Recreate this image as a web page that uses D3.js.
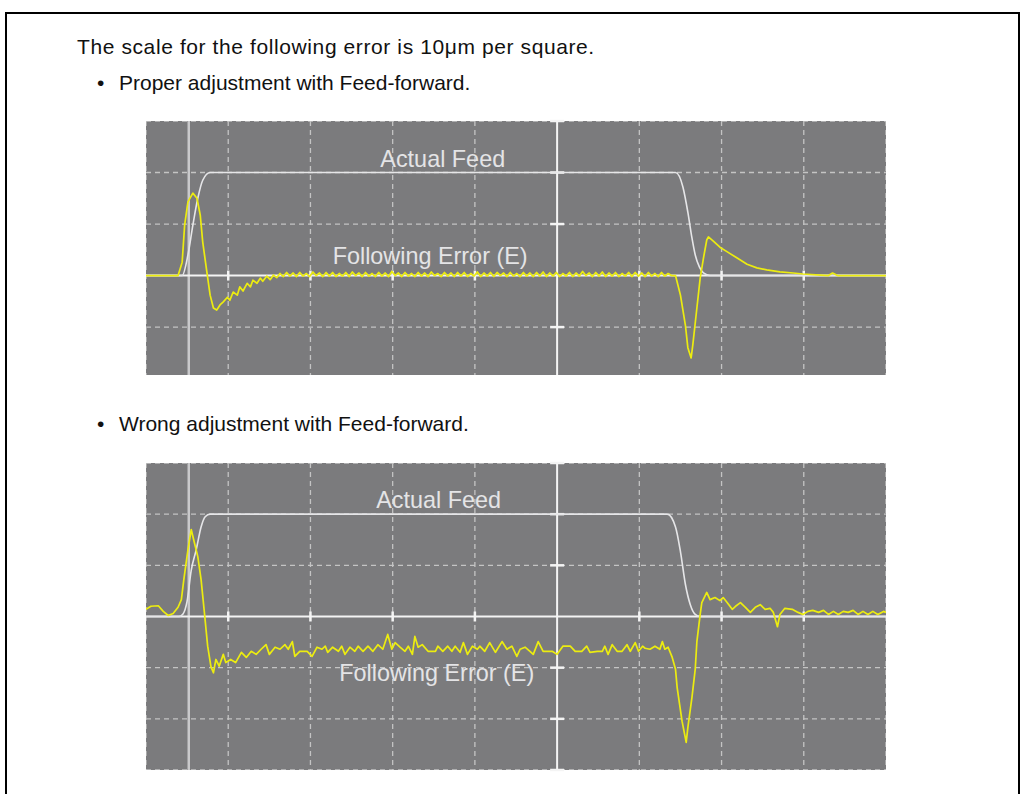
<!DOCTYPE html>
<html>
<head>
<meta charset="utf-8">
<script src="https://cdn.jsdelivr.net/npm/d3@7"></script>
<style>
body{margin:0;background:#fff;}
text{font-family:"Liberation Sans",Arial,Helvetica,sans-serif;}
</style>
</head>
<body>
<script>
var width=1025,height=794;

// time in scope divisions, following error in µm (10 µm per square)
var timeDivs = [0,1,2,3,4,5,6,7,8,9];
var errTicksProper = [-10,0,10,20,30];
var errTicksWrong = [-30,-20,-10,0,10,20,30];
var triggerT = 0.52;

var feedProper = [[0,0],[0.44,0],[0.51,4],[0.57,9.8],[0.63,15],[0.69,18.5],[0.78,20],
	[6.44,20],[6.53,17.2],[6.59,12.3],[6.64,7.3],[6.68,4],[6.73,1.7],[6.78,0.5],[6.86,0],[9,0]];

var errProper = [[0,0],[0.39,0],[0.44,2.6],[0.47,9.8],[0.51,14.3],[0.57,16],[0.62,15],[0.66,11.7],
	[0.69,6.5],[0.74,0.7],[0.78,-3.8],[0.82,-6.3],[0.86,-6.7],[0.9,-5.7],[0.94,-5.1],[0.99,-4.2],
	[1.02,-4.8],[1.06,-3.2],[1.11,-3.8],[1.14,-2.2],[1.18,-3],[1.23,-1.5],[1.27,-2.2],[1.3,-0.9],
	[1.35,-1.5],[1.39,-0.5],[1.42,-1.1],[1.47,-0.1],[1.51,-0.8],[1.55,0.1],[1.59,-0.4],
	[1.63,0.4],[1.67,-0.2],[1.71,0.6],[1.75,-0.1],[1.79,0.5],[1.83,-0.2],[1.87,0.6],[1.91,-0.1],
	[1.95,0.4],[1.99,-0.2],[2.03,0.7],[2.07,0],[2.11,0.5],[2.15,-0.2],[2.19,0.6],[2.23,-0.1],
	[2.27,0.6],[2.31,-0.2],[2.35,0.4],[2.39,-0.1],[2.43,0.6],[2.47,-0.2],[2.51,0.7],[2.55,0],
	[2.59,0.5],[2.63,-0.2],[2.67,0.6],[2.71,-0.1],[2.75,0.4],[2.79,-0.2],[2.83,0.6],[2.87,-0.1],
	[2.91,0.5],[2.95,-0.2],[2.99,0.8],[3.03,0],[3.07,0.5],[3.11,-0.2],[3.15,0.6],[3.19,-0.1],
	[3.23,0.4],[3.27,-0.2],[3.31,0.6],[3.35,-0.1],[3.39,0.5],[3.43,-0.2],[3.47,0.7],[3.51,0],
	[3.55,0.4],[3.59,-0.2],[3.63,0.6],[3.67,-0.1],[3.71,0.5],[3.75,-0.2],[3.79,0.6],[3.83,-0.1],
	[3.87,0.6],[3.91,-0.2],[3.95,0.4],[3.99,-0.1],[4.03,0.7],[4.07,-0.2],[4.11,0.5],[4.15,-0.1],
	[4.19,0.6],[4.23,-0.2],[4.27,0.6],[4.31,0],[4.35,0.5],[4.39,-0.2],[4.43,0.6],[4.47,-0.1],
	[4.51,0.4],[4.55,-0.2],[4.59,0.6],[4.63,-0.1],[4.67,0.5],[4.71,-0.2],[4.75,0.6],[4.79,-0.1],
	[4.83,0.7],[4.87,-0.2],[4.91,0.5],[4.95,-0.1],[4.99,0.6],[5.03,-0.2],[5.07,0.4],[5.11,-0.1],
	[5.15,0.6],[5.19,-0.2],[5.23,0.5],[5.27,-0.1],[5.31,0.8],[5.35,0],[5.39,0.5],[5.43,-0.2],
	[5.47,0.6],[5.51,-0.1],[5.55,0.7],[5.59,-0.2],[5.63,0.5],[5.67,-0.1],[5.71,0.6],[5.75,-0.2],
	[5.79,0.4],[5.83,-0.1],[5.87,0.6],[5.91,-0.2],[5.95,0.6],[5.99,-0.1],[6.03,0.5],[6.07,-0.2],
	[6.11,0.6],[6.15,-0.1],[6.19,0.4],[6.23,-0.2],[6.27,0.6],[6.31,-0.1],[6.35,0.4],[6.39,0],
	[6.44,0],[6.5,-3.8],[6.56,-9.6],[6.59,-14],[6.63,-16],[6.65,-13.5],[6.7,-6.3],[6.74,-0.5],
	[6.78,3.4],[6.82,6.9],[6.84,7.5],[6.9,6.7],[6.98,5.5],[7.07,4.6],[7.19,3.4],[7.31,2.2],
	[7.43,1.5],[7.55,1.1],[7.71,0.7],[7.87,0.5],[7.99,0.3],[8.2,0.1],[8.3,0],[8.35,0.5],[8.41,0],[9,0]];

var feedWrong = [[0,0],[0.4,0],[0.45,0.5],[0.5,3],[0.55,9],[0.61,13],[0.67,17.5],[0.72,19.5],[0.78,20],
	[6.34,20],[6.44,17.5],[6.5,12.7],[6.56,6.3],[6.62,2.3],[6.68,0.4],[6.74,0],[9,0]];

var errWrong = [[0,1.4],[0.06,2],[0.15,2.1],[0.21,1],[0.27,0.2],[0.33,0.6],[0.39,1.8],[0.43,3.3],
	[0.46,7.2],[0.51,13],[0.55,17],[0.58,15],[0.63,11.7],[0.67,7.2],[0.71,0.8],[0.75,-5.8],
	[0.79,-9.8],[0.82,-11],[0.85,-8.4],[0.89,-9.7],[0.94,-7.4],[0.97,-9],[1.03,-8.4],[1.09,-9],
	[1.16,-7],[1.22,-8],[1.28,-6.8],[1.34,-7.4],[1.4,-6.4],[1.46,-5.5],[1.5,-7.4],[1.57,-6],
	[1.63,-6.4],[1.69,-5.5],[1.73,-6.4],[1.78,-4.9],[1.81,-7.8],[1.87,-6.8],[1.96,-6.8],[2.02,-7.8],
	[2.08,-6],[2.14,-6.4],[2.18,-5.8],[2.21,-7],[2.27,-6],[2.34,-6.8],[2.38,-5.8],[2.42,-7.4],
	[2.48,-6],[2.54,-6.8],[2.58,-5.8],[2.64,-6.8],[2.7,-5.8],[2.76,-6.8],[2.82,-5.5],[2.88,-6.4],
	[2.94,-3.5],[2.99,-6.4],[3.03,-5.1],[3.09,-6],[3.15,-6.8],[3.19,-5.8],[3.24,-7.4],[3.27,-3.9],
	[3.31,-6],[3.36,-5.5],[3.43,-6.8],[3.52,-6.8],[3.55,-5.8],[3.61,-6.8],[3.67,-5.8],[3.72,-6.8],
	[3.76,-5.8],[3.82,-7],[3.86,-5.1],[3.91,-7.4],[3.97,-5.8],[4.03,-6.4],[4.06,-5.8],[4.12,-6.8],
	[4.18,-5.1],[4.25,-7],[4.33,-4.9],[4.39,-6.4],[4.45,-5.8],[4.51,-7.8],[4.55,-6.4],[4.61,-6],
	[4.67,-6.8],[4.71,-7.4],[4.77,-4.9],[4.83,-6.8],[4.94,-6.8],[5,-7.4],[5.07,-5.8],[5.16,-5.8],
	[5.22,-6.8],[5.3,-6.8],[5.36,-5.8],[5.4,-7],[5.49,-6.8],[5.55,-6.8],[5.58,-5.8],[5.62,-7.4],
	[5.67,-5.5],[5.73,-6.8],[5.79,-6.8],[5.85,-5.5],[5.89,-6.8],[5.95,-5.1],[5.99,-6.8],[6.04,-5.8],
	[6.07,-6.2],[6.13,-6.4],[6.19,-5.8],[6.25,-6.4],[6.28,-4.9],[6.31,-6.4],[6.35,-6],[6.4,-8],
	[6.44,-10.3],[6.46,-13.9],[6.52,-20.5],[6.57,-24.6],[6.59,-21.7],[6.64,-15.8],[6.68,-10.3],
	[6.7,-4.9],[6.74,0.4],[6.76,2.7],[6.82,4.7],[6.86,3.3],[6.92,3.7],[6.98,3.1],[7.02,3.7],
	[7.07,2.7],[7.13,1.4],[7.17,2],[7.23,2.7],[7.29,1.8],[7.35,0.8],[7.41,1.8],[7.47,2.3],
	[7.53,1.4],[7.59,1.6],[7.63,0.8],[7.68,-2],[7.71,0.4],[7.77,1.6],[7.86,1.4],[7.93,0.8],
	[7.99,0.4],[8.05,1],[8.11,1.2],[8.18,0.8],[8.24,1.2],[8.3,0.4],[8.36,1],[8.42,0.4],[8.48,1],
	[8.54,0.8],[8.6,1.2],[8.66,0.4],[8.72,1],[8.78,0.4],[8.84,1],[8.9,0.4],[8.97,1],[9,0.8]];

var svg = d3.select("body")
	.append("svg")
	.attr("width", width)
	.attr("height", height);

// page frame
svg.append("path")
	.attr("d", "M6,794 L6,13 L1019,13 L1019,794")
	.attr("fill", "none")
	.attr("stroke", "#000")
	.attr("stroke-width", 2);

var body = svg.append("g").attr("font-size", 21).attr("fill", "#111");
body.append("text").attr("x", 77).attr("y", 54).attr("letter-spacing", 0.6)
	.text("The scale for the following error is 10μm per square.");
body.append("text").attr("x", 97).attr("y", 90).text("•");
body.append("text").attr("x", 119).attr("y", 90).text("Proper adjustment with Feed-forward.");
body.append("text").attr("x", 97).attr("y", 431).text("•");
body.append("text").attr("x", 119).attr("y", 431).text("Wrong adjustment with Feed-forward.");

drawScope({x0:146, x1:886, y0:121, y1:375, lo:-19.3, hi:30, ticks:errTicksProper,
	feed:feedProper, err:errProper,
	feedLabel:[2.85,21.1], errLabel:[2.27,2.3]});
drawScope({x0:146, x1:886, y0:463, y1:770, lo:-30, hi:30, ticks:errTicksWrong,
	feed:feedWrong, err:errWrong,
	feedLabel:[2.8,21.3], errLabel:[2.35,-12.6]});

function drawScope(p){
	var x = d3.scaleLinear().domain([0,9]).range([p.x0,p.x1]);
	var y = d3.scaleLinear().domain([p.lo,p.hi]).range([p.y1,p.y0]);
	var g = svg.append("g");

	g.append("defs").append("clipPath")
		.attr("id", "clip"+p.y0)
		.append("rect")
		.attr("x", p.x0).attr("y", p.y0)
		.attr("width", p.x1-p.x0).attr("height", p.y1-p.y0);

	g.append("rect")
		.attr("x", p.x0).attr("y", p.y0)
		.attr("width", p.x1-p.x0).attr("height", p.y1-p.y0)
		.attr("fill", "#7b7b7d");

	var grid = g.append("g").attr("clip-path", "url(#clip"+p.y0+")")
		.attr("stroke", "#c4c4c4").attr("stroke-width", 1.3).attr("stroke-dasharray", "5,4");
	grid.selectAll("line.v").data(timeDivs.filter(function(d){return d!=5;}))
		.enter().append("line")
		.attr("x1", function(d){return x(d);}).attr("x2", function(d){return x(d);})
		.attr("y1", p.y0).attr("y2", p.y1);
	grid.selectAll("line.h").data(p.ticks.filter(function(d){return d!=0;}))
		.enter().append("line")
		.attr("y1", function(d){return y(d);}).attr("y2", function(d){return y(d);})
		.attr("x1", p.x0).attr("x2", p.x1);

	// trigger marker
	g.append("line")
		.attr("x1", x(triggerT)).attr("x2", x(triggerT))
		.attr("y1", p.y0).attr("y2", p.y1)
		.attr("stroke", "#c9c9cb").attr("stroke-width", 2.5);

	// center axes with ticks
	var axes = g.append("g").attr("stroke", "#f4f4f4").attr("stroke-width", 2);
	axes.append("line").attr("x1", p.x0).attr("x2", p.x1).attr("y1", y(0)).attr("y2", y(0));
	axes.append("line").attr("x1", x(5)).attr("x2", x(5)).attr("y1", p.y0).attr("y2", p.y1);
	axes.selectAll("line.tx").data(timeDivs.filter(function(d){return d>0 && d<9 && d!=5;}))
		.enter().append("line")
		.attr("x1", function(d){return x(d);}).attr("x2", function(d){return x(d);})
		.attr("y1", y(0)-5).attr("y2", y(0)+5).attr("stroke-width", 2.5);
	axes.selectAll("line.ty").data(p.ticks.filter(function(d){return d!=0;}))
		.enter().append("line")
		.attr("y1", function(d){return y(d);}).attr("y2", function(d){return y(d);})
		.attr("x1", x(5)-7).attr("x2", x(5)+7).attr("stroke-width", 2.5);

	var line = d3.line()
		.x(function(d){return x(d[0]);})
		.y(function(d){return y(d[1]);});

	var traces = g.append("g").attr("clip-path", "url(#clip"+p.y0+")").attr("fill", "none");
	traces.append("path")
		.attr("d", line.curve(d3.curveMonotoneX)(p.feed))
		.attr("stroke", "#e6e6e8").attr("stroke-width", 1.6);
	traces.append("path")
		.attr("d", line.curve(d3.curveLinear)(p.err))
		.attr("stroke", "#ecec10").attr("stroke-width", 1.7)
		.attr("stroke-linejoin", "round");

	var labels = g.append("g").attr("font-size", 23.4).attr("fill", "#e4e4e6");
	labels.append("text").attr("x", x(p.feedLabel[0])).attr("y", y(p.feedLabel[1])).text("Actual Feed");
	labels.append("text").attr("x", x(p.errLabel[0])).attr("y", y(p.errLabel[1])).text("Following Error (E)");
}
</script>
</body>
</html>
